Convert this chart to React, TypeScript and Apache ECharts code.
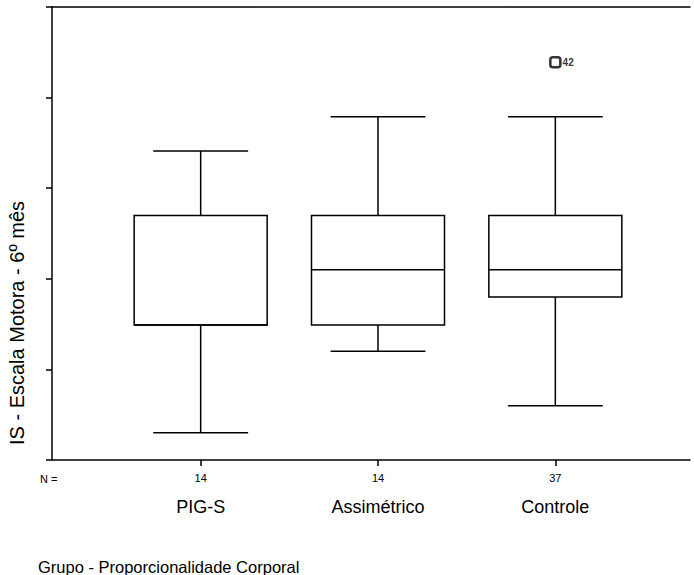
import React, { useEffect, useRef } from "react";
import * as echarts from "echarts";

const categories = ["PIG-S", "Assimétrico", "Controle"];
const counts = ["14", "14", "37"];
const lowWhisker = [3.0, 12.0, 6.0];
const q1 = [14.9, 14.9, 18.0];
const medians = [14.9, 21.0, 21.0];
const q3 = [27.0, 27.0, 27.0];
const highWhisker = [34.1, 37.9, 37.9];
const outliers = [{ cat: 2, value: 43.9, label: "42" }];
const yTicks = [0, 10, 20, 30, 40, 50];

const FONT = "'Liberation Sans', Arial, sans-serif";

export default function App() {
  const ref = useRef<HTMLDivElement>(null);
  useEffect(() => {
    document.body.style.margin = "0";
    const chart = echarts.init(ref.current!, null, { renderer: "svg" });
    const boxData = categories.map((_, i) => [i, lowWhisker[i], q1[i], medians[i], q3[i], highWhisker[i]]);
    const lineStyle = { stroke: "#000", lineWidth: 1.5, fill: "none" };
    const hiddenLine = { show: false };
    chart.setOption({
      animation: false,
      backgroundColor: "#fff",
      grid: [
        { left: 52, right: 4, top: 7, bottom: 115 },
        { left: 112, width: 532, top: 7, bottom: 115 },
      ],
      xAxis: [
        {
          gridIndex: 0, type: "value", min: 0, max: 1, position: "bottom",
          axisLine: { show: true, onZero: false, lineStyle: { color: "#000", width: 1.5 } },
          axisTick: { show: false }, axisLabel: { show: false }, splitLine: { show: false },
        },
        {
          gridIndex: 0, type: "value", min: 0, max: 1, position: "top",
          axisLine: { show: true, onZero: false, lineStyle: { color: "#000", width: 1.5 } },
          axisTick: { show: false }, axisLabel: { show: false }, splitLine: { show: false },
        },
        {
          gridIndex: 1, type: "category", data: categories, boundaryGap: true, position: "bottom",
          axisLine: hiddenLine,
          axisTick: { show: true, alignWithLabel: true, length: 6, lineStyle: { color: "#000", width: 1.5 } },
          axisLabel: {
            margin: 12,
            formatter: (_v: string, i: number) => counts[i],
            fontSize: 11, fontFamily: FONT, color: "#000",
          },
        },
        {
          gridIndex: 1, type: "category", data: categories, boundaryGap: true, position: "bottom", offset: 0,
          axisLine: hiddenLine,
          axisTick: { show: false },
          axisLabel: { margin: 38, fontSize: 18, fontFamily: FONT, color: "#000" },
        },
      ],
      yAxis: [
        {
          gridIndex: 0, type: "value", min: yTicks[0], max: yTicks[yTicks.length - 1], interval: 10,
          axisLine: { show: true, lineStyle: { color: "#000", width: 1.5 } },
          axisTick: { show: true, length: 6, lineStyle: { color: "#000", width: 1.5 } },
          axisLabel: { show: false }, splitLine: { show: false },
        },
        {
          gridIndex: 1, type: "value", min: yTicks[0], max: yTicks[yTicks.length - 1], interval: 10,
          show: false,
        },
      ],
      graphic: [
        {
          type: "text", x: 17, y: 323, rotation: Math.PI / 2,
          style: { text: "IS - Escala Motora - 6º mês", font: `20px ${FONT}`, fill: "#000", align: "center", verticalAlign: "middle" },
        },
        {
          type: "text", x: 38, y: 567,
          style: { text: "Grupo - Proporcionalidade Corporal", font: `16.5px ${FONT}`, fill: "#000", align: "left", verticalAlign: "middle" },
        },
        {
          type: "text", x: 40, y: 479,
          style: { text: "N =", font: `11px ${FONT}`, fill: "#000", align: "left", verticalAlign: "middle" },
        },
      ],
      series: [
        {
          type: "custom",
          xAxisIndex: 2, yAxisIndex: 1,
          data: boxData,
          encode: { x: 0, y: [1, 2, 3, 4, 5] },
          renderItem: (params: any, api: any) => {
            const idx = api.value(0);
            const lo = api.coord([idx, api.value(1)]);
            const b1 = api.coord([idx, api.value(2)]);
            const md = api.coord([idx, api.value(3)]);
            const b3 = api.coord([idx, api.value(4)]);
            const hi = api.coord([idx, api.value(5)]);
            const band = api.size([1, 0])[0];
            const bw = band * 0.75;
            const cw = band * 0.535;
            const x = lo[0];
            return {
              type: "group",
              children: [
                { type: "line", shape: { x1: x, y1: hi[1], x2: x, y2: b3[1] }, style: lineStyle },
                { type: "line", shape: { x1: x, y1: b1[1], x2: x, y2: lo[1] }, style: lineStyle },
                { type: "line", shape: { x1: x - cw / 2, y1: hi[1], x2: x + cw / 2, y2: hi[1] }, style: lineStyle },
                { type: "line", shape: { x1: x - cw / 2, y1: lo[1], x2: x + cw / 2, y2: lo[1] }, style: lineStyle },
                { type: "rect", shape: { x: x - bw / 2, y: b3[1], width: bw, height: b1[1] - b3[1] }, style: { stroke: "#000", lineWidth: 1.5, fill: "#fff" } },
                { type: "line", shape: { x1: x - bw / 2, y1: md[1], x2: x + bw / 2, y2: md[1] }, style: lineStyle },
              ],
            };
          },
        },
        {
          type: "scatter",
          xAxisIndex: 2, yAxisIndex: 1,
          data: outliers.map((o) => ({ value: [o.cat, o.value], label: { formatter: o.label } })),
          symbol: "roundRect",
          symbolSize: 10,
          itemStyle: { color: "#fff", borderColor: "#000", borderWidth: 2.5 },
          label: { show: true, position: "right", distance: 1, fontSize: 10, fontWeight: "bold", fontFamily: FONT, color: "#000" },
        },
      ],
    });
    return () => chart.dispose();
  }, []);
  return <div ref={ref} style={{ width: 694, height: 575 }} />;
}
